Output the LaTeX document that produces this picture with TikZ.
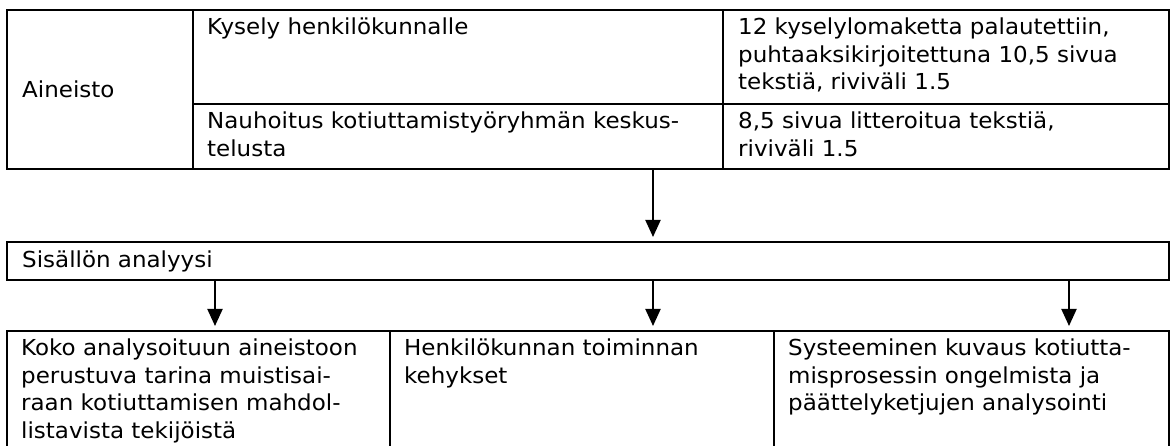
\documentclass[tikz,border=0pt]{standalone}
\usepackage{fontspec}
\setmainfont{DejaVu Sans}[FakeStretch=1.045]
\usetikzlibrary{arrows.meta}

\begin{document}
\begin{tikzpicture}[x=1pt,y=-1pt,
  cell/.style={draw, line width=2pt, rectangle, anchor=north west,
    outer sep=0pt, inner sep=0pt},
  txt/.style={font=\fontsize{22}{27.5}\selectfont, inner sep=0pt, align=left,
    anchor=north west},
  midtxt/.style={txt, anchor=west},
  flow/.style={line width=2pt, -{Triangle[width=15pt,length=17pt]},
    shorten >=5pt}]

\clip (0,0) rectangle (1171,446);

% material table
\node[cell, minimum width=186, minimum height=159] (src) at (7,10) {};
\node[cell, minimum width=530, minimum height=94]  (q1)  at (193,10) {};
\node[cell, minimum width=446, minimum height=94]  (q2)  at (723,10) {};
\node[cell, minimum width=530, minimum height=65]  (r1)  at (193,104) {};
\node[cell, minimum width=446, minimum height=65]  (r2)  at (723,104) {};

\node[midtxt] (tsrc) at ([xshift=15pt]src.west) {Aineisto};
\node[txt] (tq1) at ([shift={(14,8)}]q1.north west) {Kysely henkilökunnalle};
\node[txt] (tq2) at ([shift={(15,8)}]q2.north west)
  {12 kyselylomaketta palautettiin,\\puhtaaksikirjoitettuna 10,5 sivua\\tekstiä, riviväli 1.5};
\node[txt] (tr1) at ([shift={(14,8)}]r1.north west)
  {Nauhoitus kotiuttamistyöryhmän keskus-\\telusta};
\node[txt] (tr2) at ([shift={(15,8)}]r2.north west)
  {8,5 sivua litteroitua tekstiä,\\riviväli 1.5};

% analysis bar
\node[cell, minimum width=1162, minimum height=38] (sis) at (7,242) {};
\node[midtxt] (tsis) at ([xshift=15pt]sis.west) {Sisällön analyysi};

% outcome boxes
\node[cell, minimum width=383, minimum height=130] (o1) at (7,331) {};
\node[cell, minimum width=384, minimum height=130] (o2) at (390,331) {};
\node[cell, minimum width=395, minimum height=130] (o3) at (774,331) {};

\node[txt] (to1) at ([shift={(14,8)}]o1.north west)
  {Koko analysoituun aineistoon\\perustuva tarina muistisai-\\raan kotiuttamisen mahdol-\\listavista tekijöistä};
\node[txt] (to2) at ([shift={(14,8)}]o2.north west)
  {Henkilökunnan toiminnan\\kehykset};
\node[txt] (to3) at ([shift={(14,8)}]o3.north west)
  {Systeeminen kuvaus kotiutta-\\misprosessin ongelmista ja\\päättelyketjujen analysointi};

% arrow columns
\coordinate (ax1) at (215,0);
\coordinate (ax2) at (653,0);
\coordinate (ax3) at (1069,0);

\draw[flow] (r1.south -| ax2) -- (sis.north -| ax2);
\draw[flow] (sis.south -| ax1) -- (o1.north -| ax1);
\draw[flow] (sis.south -| ax2) -- (o2.north -| ax2);
\draw[flow] (sis.south -| ax3) -- (o3.north -| ax3);
\end{tikzpicture}
\end{document}
